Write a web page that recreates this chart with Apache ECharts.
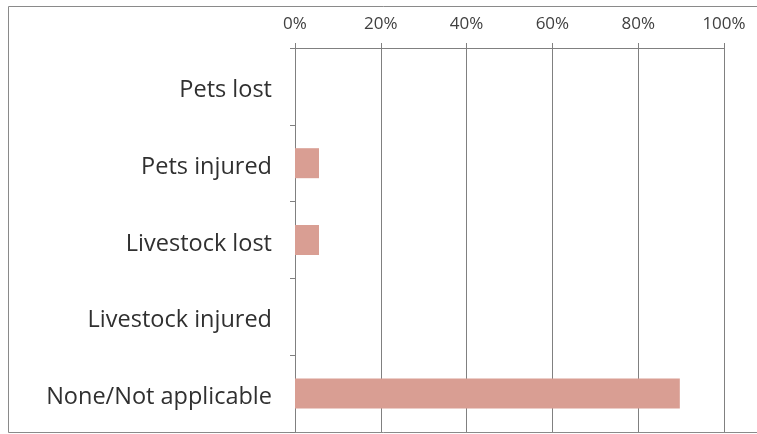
<!DOCTYPE html>
<html><head><meta charset="utf-8">
<script src="https://cdn.jsdelivr.net/npm/echarts@6/dist/echarts.min.js"></script>
<style>html,body{margin:0;padding:0;background:#fff}#c{width:757px;height:434px}</style>
</head><body><div id="c"></div>
<script>
const categories = ["Pets lost", "Pets injured", "Livestock lost", "Livestock injured", "None/Not applicable"];
const values = [0, 5.6, 5.6, 0, 89.7];
const tickLabels = ["0%", "20%", "40%", "60%", "80%", "100%"];

const chart = echarts.init(document.getElementById('c'));
chart.setOption({
  animation: false,
  backgroundColor: '#fff',
  textStyle: {fontFamily: 'Open Sans'},
  graphic: [{
    type: 'rect', shape: {x: 8.5, y: 6.5, width: 760, height: 426},
    style: {fill: 'none', stroke: '#8a8a8a', lineWidth: 1}, silent: true, z: -1
  }],
  grid: {left: 295, right: 33, top: 48, bottom: 2, containLabel: false},
  xAxis: {
    type: 'value', position: 'top', min: 0, max: 100, interval: 20,
    axisLine: {show: true, lineStyle: {color: '#808080', width: 1}},
    axisTick: {show: true, length: 5, lineStyle: {color: '#808080'}},
    splitLine: {show: true, lineStyle: {color: '#808080', width: 1}},
    axisLabel: {
      color: '#404040', fontSize: 17, margin: 15, fontFamily: 'Open Sans',
      formatter: function (v) { return tickLabels[Math.round(v / 20)]; }
    }
  },
  yAxis: {
    type: 'category', data: categories, inverse: true,
    axisLine: {show: true, lineStyle: {color: '#808080', width: 1}},
    axisTick: {show: true, length: 5, lineStyle: {color: '#808080'}},
    axisLabel: {
      margin: 23,
      formatter: function (v) { return '{a|' + v + '}'; },
      rich: {a: {color: '#303030', fontSize: 23.5, fontFamily: 'Open Sans', padding: [8, 0, 0, 0]}}
    }
  },
  series: [{
    type: 'bar', data: values, barWidth: 30,
    itemStyle: {color: '#d99e93'}
  }]
});
</script></body></html>
